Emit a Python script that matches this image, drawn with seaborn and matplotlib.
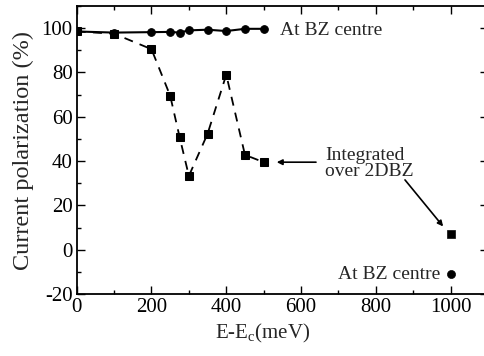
import matplotlib
matplotlib.use("Agg")
import matplotlib.pyplot as plt
import seaborn as sns
from matplotlib.ticker import MultipleLocator

sns.set_style("ticks")
plt.rcParams['font.family'] = ['Liberation Serif', 'DejaVu Serif']
plt.rcParams['mathtext.fontset'] = 'custom'
plt.rcParams['mathtext.rm'] = 'Liberation Serif'
plt.rcParams['mathtext.it'] = 'Liberation Serif:italic'
plt.rcParams['axes.unicode_minus'] = False

# Data
energy = [0, 100, 200, 250, 275, 300, 350, 400, 450, 500]
bz_centre = [98.5, 98.0, 98.2, 98.3, 98.0, 99.0, 99.3, 98.7, 99.7, 99.7]
integrated = [98.5, 97.5, 90.5, 69.5, 51.0, 33.3, 52.3, 79.0, 42.8, 39.5]
far_energy = [1000]
far_integrated = [7.0]
far_bz_centre = [-11.0]

W, H = 484, 356
fig = plt.figure(figsize=(W / 100, H / 100), dpi=100)
left, right, top, bottom = 76.7, 488.0, 6.0, 294.0
ax = fig.add_axes([left / W, 1 - bottom / H, (right - left) / W, (bottom - top) / H])

sns.lineplot(x=energy, y=bz_centre, ax=ax, color='black', linewidth=1.5,
             marker='o', markersize=5.5, markeredgecolor='black')
sns.lineplot(x=energy, y=integrated, ax=ax, color='black', linewidth=1.3,
             linestyle=(0, (5, 4)), marker='s', markersize=5.5, markeredgecolor='black')
sns.scatterplot(x=far_energy, y=far_integrated, ax=ax, color='black', marker='s', s=34,
                edgecolor='black')
sns.scatterplot(x=far_energy, y=far_bz_centre, ax=ax, color='black', marker='o', s=34,
                edgecolor='black')

ax.set_xlim(0, 1100)
ax.set_ylim(-20, 110)
ax.xaxis.set_major_locator(MultipleLocator(200))
ax.xaxis.set_minor_locator(MultipleLocator(100))
ax.yaxis.set_major_locator(MultipleLocator(20))
ax.yaxis.set_minor_locator(MultipleLocator(10))
ax.tick_params(which='both', direction='in', top=True, right=True, labelsize=15,
               colors='black', width=1.0, pad=3)
ax.tick_params(which='major', length=6)
ax.tick_params(which='minor', length=3)
for s in ax.spines.values():
    s.set_linewidth(1.3)
    s.set_color('black')

ax.set_xlabel(r'E-E$_\mathrm{c}$(meV)', fontsize=15)
ax.set_ylabel('Current polarization (%)', fontsize=17.5)
ax.xaxis.set_label_coords((263 - left) / (right - left), -(322 - bottom) / (bottom - top))
ax.yaxis.set_label_coords(-(left - 34) / (right - left), 0.5)

ax.text(543, 98.8, 'At BZ centre', fontsize=14, va='center', ha='left')
ax.text(972, -11.0, 'At BZ centre', fontsize=14, va='center', ha='right')
ax.text(664, 39.0, 'Integrated\nover 2DBZ', fontsize=14, va='center', ha='left',
        linespacing=0.95)
ax.annotate('', xy=(535, 39.5), xytext=(640, 39.5),
            arrowprops=dict(arrowstyle='-|>', color='black', lw=1.2,
                            mutation_scale=8, shrinkA=0, shrinkB=0))
ax.annotate('', xy=(980, 10.5), xytext=(878, 31.5),
            arrowprops=dict(arrowstyle='-|>', color='black', lw=1.2,
                            mutation_scale=8, shrinkA=0, shrinkB=0))

fig.savefig('out.png', dpi=100)
